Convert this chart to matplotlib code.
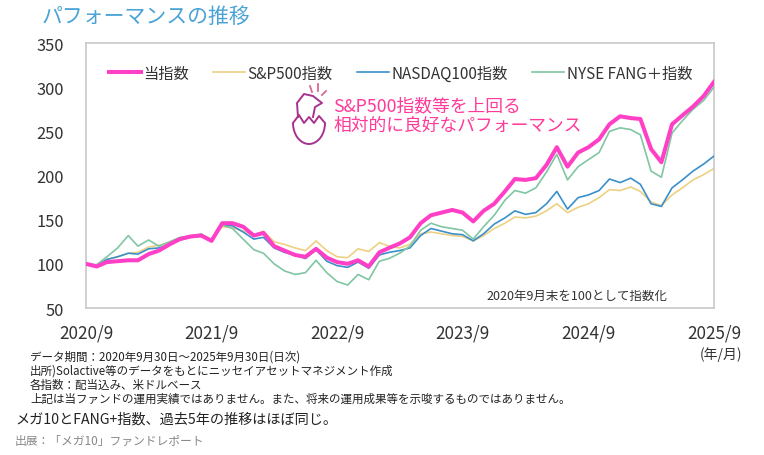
import numpy as np
import pandas as pd
from matplotlib import pyplot as plt
from matplotlib.patches import Arc

plt.rcParams['font.family'] = ['Noto Sans CJK JP', 'DejaVu Sans']

# monthly values, 2020/9 = 100
months = pd.date_range('2020-09-30', periods=61, freq='ME')
fund = [100, 97, 102, 103, 104, 104, 111, 115, 122, 128, 131, 132, 126, 146, 146, 142,
        132, 135, 120, 115, 110, 108, 117, 107, 102, 100, 104, 97, 113, 118, 123, 130,
        146, 155, 158, 161, 158, 148, 160, 168, 182, 196, 195, 197, 212, 232, 210, 226,
        232, 241, 258, 267, 265, 264, 230, 215, 258, 268, 278, 290, 306]
fang = [100, 99, 108, 118, 132, 120, 127, 120, 125, 130, 131, 134, 126, 144, 140, 128,
        116, 112, 100, 92, 88, 90, 104, 90, 80, 76, 88, 82, 103, 106, 112, 120,
        138, 146, 142, 140, 138, 128, 142, 155, 172, 183, 180, 186, 204, 224, 195, 210,
        218, 226, 250, 254, 252, 246, 205, 198, 248, 262, 275, 285, 300]
ndx = [100, 98, 105, 108, 112, 111, 117, 118, 122, 127, 130, 133, 127, 144, 143, 136,
       128, 130, 118, 113, 110, 106, 116, 103, 98, 96, 102, 95, 110, 113, 115, 118,
       132, 140, 137, 134, 133, 126, 134, 145, 152, 160, 156, 158, 168, 182, 162, 175,
       178, 183, 196, 192, 197, 190, 168, 165, 186, 195, 205, 213, 222]
spx = [100, 98, 105, 108, 112, 113, 119, 121, 124, 128, 131, 133, 128, 142, 141, 137,
       132, 137, 125, 122, 118, 115, 126, 115, 108, 107, 117, 114, 124, 120, 118, 122,
       134, 136, 134, 132, 131, 126, 132, 140, 146, 153, 152, 154, 160, 168, 158, 164,
       168, 175, 184, 183, 187, 182, 170, 166, 178, 186, 195, 201, 208]

labels = ['当指数', 'S&P500指数', 'NASDAQ100指数', 'NYSE FANG＋指数']
colors = ['#ff3fc6', '#ecd183', '#3b8fca', '#80c6a3']
tick_dates = pd.to_datetime(['2020-09-30', '2021-09-30', '2022-09-30',
                             '2023-09-30', '2024-09-30', '2025-09-30'])
tick_labels = ['2020/9', '2021/9', '2022/9', '2023/9', '2024/9', '2025/9']

W, H = 764, 456
fig = plt.figure(figsize=(7.64, 4.56), dpi=100)
ax = fig.add_axes([86 / W, 1 - 309 / H, 628 / W, 265 / H])

l_spx, = ax.plot(months, spx, color=colors[1], lw=1.2, zorder=2)
l_ndx, = ax.plot(months, ndx, color=colors[2], lw=1.2, zorder=3)
l_fang, = ax.plot(months, fang, color=colors[3], lw=1.2, zorder=3)
l_fund, = ax.plot(months, fund, color=colors[0], lw=2.9, zorder=4)

ax.set_xlim(months[0], months[-1])
ax.set_ylim(50, 350)
ax.set_yticks(range(50, 351, 50))
ax.set_xticks(tick_dates)
ax.set_xticklabels(tick_labels)
ax.tick_params(length=0, colors='#333333')
ax.tick_params(axis='y', pad=16, labelsize=11.8)
ax.tick_params(axis='x', pad=11, labelsize=12.3)
for s in ax.spines.values():
    s.set_color('#c8c8c8')
    s.set_linewidth(1.2)

leg = ax.legend([l_fund, l_spx, l_ndx, l_fang], labels, loc='upper left',
                bbox_to_anchor=(0.014, 0.97), ncol=4, frameon=False, fontsize=11,
                handlelength=2.1, handletextpad=0.15, columnspacing=1.6)
for t in leg.get_texts():
    t.set_color('#333333')

ax.text((333 - 86) / 628, 0.80, 'S&P500指数等を上回る\n相対的に良好なパフォーマンス',
        transform=ax.transAxes, fontsize=12.8, color='#ff3a9a', va='top', linespacing=1.1)
ax.text(0.925, 0.025, '2020年9月末を100として指数化', transform=ax.transAxes,
        fontsize=9, color='#333333', ha='right', va='bottom')


# small egg icon, drawn in pixel positions of the figure
def fx(p):
    return [v / W for v in p]


def fy(p):
    return [1 - v / H for v in p]


egg = '#a8338f'
fig.add_artist(Arc((309 / W, 1 - 124 / H), 32 / W, 42 / H, theta1=180, theta2=360,
                   color=egg, lw=1.4, transform=fig.transFigure))
fig.add_artist(plt.Line2D(fx([293, 299, 304, 309, 314, 319, 325]),
                          fy([124, 116, 124, 118, 124, 117, 124]),
                          color=egg, lw=1.4, transform=fig.transFigure))
fig.add_artist(plt.Line2D(fx([298, 297, 304, 313, 322, 315, 313]),
                          fy([118, 104, 95, 97, 104, 108, 118]),
                          color=egg, lw=1.4, transform=fig.transFigure))
for xs, ys in [([310, 312], [87, 93]), ([318, 318], [85, 92]), ([326, 322], [92, 96])]:
    fig.add_artist(plt.Line2D(fx(xs), fy(ys), color='#d86a92', lw=1.3,
                              transform=fig.transFigure))

fig.text(42 / W, 1 - 17 / H, 'パフォーマンスの推移', fontsize=15, color='#4aa3d6', va='center')
fig.text(742 / W, 1 - 355 / H, '(年/月)', fontsize=10, color='#333333', ha='right', va='center')

notes = ['データ期間：2020年9月30日～2025年9月30日(日次)',
         '出所)Solactive等のデータをもとにニッセイアセットマネジメント作成',
         '各指数：配当込み、米ドルベース',
         '上記は当ファンドの運用実績ではありません。また、将来の運用成果等を示唆するものではありません。']
for i, n in enumerate(notes):
    fig.text(30 / W, 1 - (357 + 14 * i) / H, n, fontsize=8.3, color='#222222', va='center')
fig.text(15 / W, 1 - 420 / H, 'メガ10とFANG+指数、過去5年の推移はほぼ同じ。', fontsize=10.2,
         color='#222222', va='center')
fig.text(15 / W, 1 - 441 / H, '出展：「メガ10」ファンドレポート', fontsize=8.5,
         color='#888888', va='center')

fig.savefig('out.png', dpi=100)
